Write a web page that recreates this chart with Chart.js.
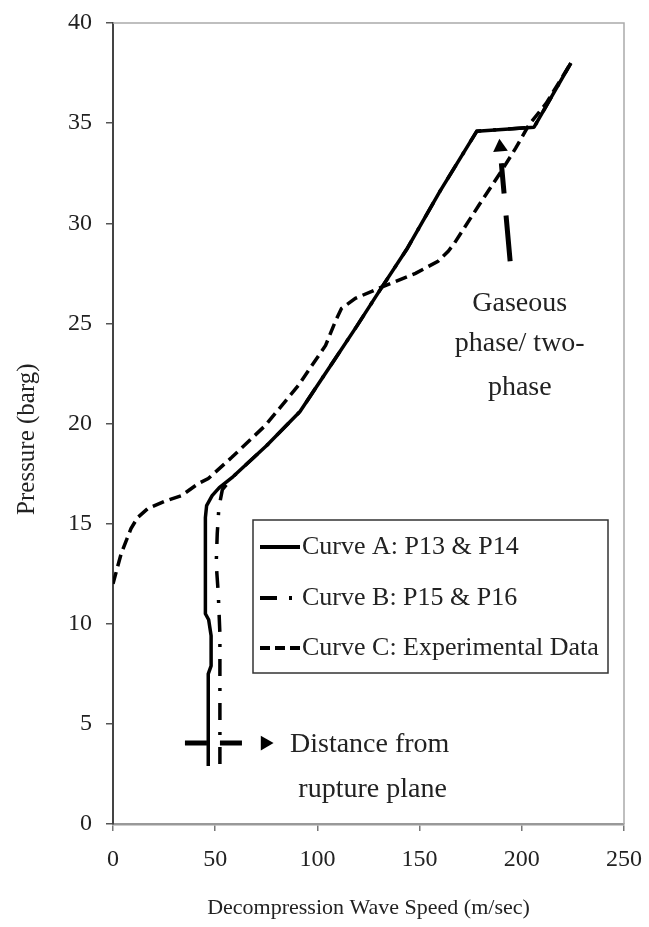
<!DOCTYPE html>
<html>
<head>
<meta charset="utf-8">
<script src="https://cdn.jsdelivr.net/npm/chart.js@4.4.1/dist/chart.umd.min.js"></script>
<style>
    body { margin: 0; background: #fff; }
    #wrap { width: 649px; height: 927px; }
</style>
</head>
<body>
<div id="wrap"><canvas id="lineChart" width="649" height="927"></canvas></div>
<script>
// courbe A : P13 & P14
const speedA = [46.6, 46.6, 48.0, 48.0, 46.8, 45.2, 45.2, 45.8, 48.5, 52.0, 58.8, 75.2, 91.5, 107.8, 119.2, 130.6, 143.7, 160.0, 178.0, 206.0, 224.0];
const pressureA = [2.9, 7.5, 7.9, 9.4, 10.2, 10.5, 15.3, 15.9, 16.4, 16.8, 17.35, 18.9, 20.6, 23.1, 24.85, 26.66, 28.7, 31.6, 34.6, 34.8, 38.0];

// courbe B : P15 & P16
const speedB = [52.3, 52.3, 51.5, 50.5, 51.0, 51.8, 53.5, 58.8, 75.2, 91.5, 107.8, 119.2, 130.6, 143.7, 160.0, 178.0, 206.0, 224.0];
const pressureB = [3.0, 9.5, 11.5, 13.0, 14.5, 15.8, 16.7, 17.35, 18.9, 20.6, 23.1, 24.85, 26.66, 28.7, 31.6, 34.6, 34.8, 38.0];

// courbe C : données expérimentales
const speedC = [0, 4, 8.8, 12, 17, 25, 33.5, 41.7, 46.6, 58, 74.5, 90.7, 104, 108.8, 111.8, 118.6, 130, 148, 159, 164, 167, 179, 190, 197, 203.4, 212, 224];
const pressureC = [12.0, 13.5, 14.75, 15.3, 15.75, 16.1, 16.4, 17.0, 17.25, 18.3, 19.9, 21.9, 23.9, 25.1, 25.75, 26.25, 26.75, 27.5, 28.1, 28.6, 29.0, 30.9, 32.6, 33.75, 34.9, 36.0, 38.0];

const labels = ["Curve A: P13 & P14", "Curve B: P15 & P16", "Curve C: Experimental Data"];

// flèches d'annotation
const arrowDistX = [35.2, 63.6];
const arrowDistY = [4.04, 4.04];
const arrowDistHead = [74.4, 4.04];
const arrowGasX = [194.3, 190.0];
const arrowGasY = [28.1, 33.0];
const arrowGasHead = [189.4, 33.8];

const xTicks = [0, 50, 100, 150, 200, 250];
const yTicks = [0, 5, 10, 15, 20, 25, 30, 35, 40];

const FONT = "'Liberation Serif', 'Times New Roman', serif";
const INK = '#222';

function toPoints(xs, ys) {
    return xs.map((x, i) => ({ x: x, y: ys[i] }));
}

const dashB = [17, 12, 3, 12];
const dashC = [12, 6];

const datasets = [
    {
        label: labels[0],
        data: toPoints(speedA, pressureA),
        borderColor: '#000',
        borderWidth: 3.5,
        borderJoinStyle: 'round',
        pointRadius: 0
    },
    {
        label: labels[1],
        data: toPoints(speedB, pressureB),
        borderColor: '#000',
        borderWidth: 3.5,
        borderDash: dashB,
        pointRadius: 0
    },
    {
        label: labels[2],
        data: toPoints(speedC, pressureC),
        borderColor: '#000',
        borderWidth: 3.5,
        borderDash: dashC,
        pointRadius: 0
    },
    {
        label: 'arrow1',
        data: toPoints(arrowDistX, arrowDistY),
        borderColor: '#000',
        borderWidth: 5,
        borderDash: [22, 13],
        pointRadius: 0
    },
    {
        label: 'head1',
        data: [{ x: arrowDistHead[0], y: arrowDistHead[1] }],
        showLine: false,
        pointStyle: 'triangle',
        rotation: 90,
        pointRadius: 8.5,
        backgroundColor: '#000',
        borderColor: '#000',
        borderWidth: 0
    },
    {
        label: 'arrow2',
        data: toPoints(arrowGasX, arrowGasY),
        borderColor: '#000',
        borderWidth: 5,
        borderDash: [46, 22],
        pointRadius: 0
    },
    {
        label: 'head2',
        data: [{ x: arrowGasHead[0], y: arrowGasHead[1] }],
        showLine: false,
        pointStyle: 'triangle',
        rotation: -5,
        pointRadius: 8.5,
        backgroundColor: '#000',
        borderColor: '#000',
        borderWidth: 0
    }
];

// cadre gris, légende et textes
const decorPlugin = {
    id: 'decor',
    afterDraw(chart) {
        const ctx = chart.ctx;
        const a = chart.chartArea;
        const sx = chart.scales.x;
        const sy = chart.scales.y;
        ctx.save();
        ctx.strokeStyle = '#aaa';
        ctx.lineWidth = 1.5;
        ctx.beginPath();
        ctx.moveTo(a.left, a.top);
        ctx.lineTo(a.right, a.top);
        ctx.lineTo(a.right, a.bottom);
        ctx.stroke();

        // légende
        const bx = 253, by = 520, bw = 355, bh = 153;
        ctx.fillStyle = '#fff';
        ctx.fillRect(bx, by, bw, bh);
        ctx.strokeStyle = '#333';
        ctx.lineWidth = 1.5;
        ctx.strokeRect(bx, by, bw, bh);
        const rows = [547, 598, 648];
        const dashes = [[], dashB, [10, 5]];
        ctx.font = '26px ' + FONT;
        ctx.textBaseline = 'middle';
        ctx.textAlign = 'left';
        rows.forEach((ry, i) => {
            ctx.strokeStyle = '#000';
            ctx.lineWidth = 4;
            ctx.setLineDash(dashes[i]);
            ctx.beginPath();
            ctx.moveTo(260, ry);
            ctx.lineTo(300, ry);
            ctx.stroke();
            ctx.setLineDash([]);
            ctx.fillStyle = INK;
            ctx.fillText(labels[i], 302, ry);
        });

        // annotations
        ctx.font = '28px ' + FONT;
        ctx.fillStyle = INK;
        ctx.textAlign = 'center';
        const gx = sx.getPixelForValue(199);
        ctx.fillText('Gaseous', gx, sy.getPixelForValue(26.0));
        ctx.fillText('phase/ two-', gx, sy.getPixelForValue(24.0));
        ctx.fillText('phase', gx, sy.getPixelForValue(21.8));
        ctx.textAlign = 'left';
        ctx.fillText('Distance from', sx.getPixelForValue(86.6), sy.getPixelForValue(3.95));
        ctx.textAlign = 'center';
        ctx.fillText('rupture plane', sx.getPixelForValue(127), sy.getPixelForValue(1.7));
        ctx.restore();
    }
};

window.addEventListener("load", (event) => {
    const ctxL = document.getElementById("lineChart").getContext('2d');
    const myChart = new Chart(ctxL, {
        type: 'scatter',
        data: { datasets: datasets },
        options: {
            responsive: false,
            animation: false,
            showLine: true,
            layout: { padding: { top: 23, right: 25, bottom: 0, left: 0 } },
            elements: { line: { tension: 0, borderCapStyle: 'butt' } },
            plugins: {
                legend: { display: false },
                tooltip: { enabled: false }
            },
            scales: {
                x: {
                    type: 'linear',
                    min: 0,
                    max: 250,
                    afterFit: (scale) => {
                        scale.height = 103;
                        scale.paddingLeft = 0;
                        scale.paddingRight = 0;
                    },
                    afterBuildTicks: (scale) => { scale.ticks = xTicks.map(v => ({ value: v })); },
                    ticks: { color: INK, font: { family: FONT, size: 24 }, padding: 14, maxRotation: 0 },
                    grid: { drawOnChartArea: false, drawTicks: true, tickLength: 7, color: '#777', lineWidth: 1.5 },
                    border: { display: true, color: '#999', width: 2.5 },
                    title: {
                        display: true,
                        text: 'Decompression Wave Speed (m/sec)',
                        color: INK,
                        font: { family: FONT, size: 22 },
                        padding: { top: 0, bottom: 6 }
                    }
                },
                y: {
                    type: 'linear',
                    min: 0,
                    max: 40,
                    afterFit: (scale) => {
                        scale.width = 113;
                        scale.paddingTop = 0;
                        scale.paddingBottom = 0;
                    },
                    afterBuildTicks: (scale) => { scale.ticks = yTicks.map(v => ({ value: v })); },
                    ticks: { color: INK, font: { family: FONT, size: 24 }, padding: 14 },
                    grid: { drawOnChartArea: false, drawTicks: true, tickLength: 7, color: '#555', lineWidth: 1.5 },
                    border: { display: true, color: '#444', width: 2 },
                    title: {
                        display: true,
                        text: 'Pressure (barg)     ',
                        color: INK,
                        font: { family: FONT, size: 25 },
                        padding: { top: 12, bottom: 0 }
                    }
                }
            }
        },
        plugins: [decorPlugin]
    });
});
</script>
</body>
</html>
